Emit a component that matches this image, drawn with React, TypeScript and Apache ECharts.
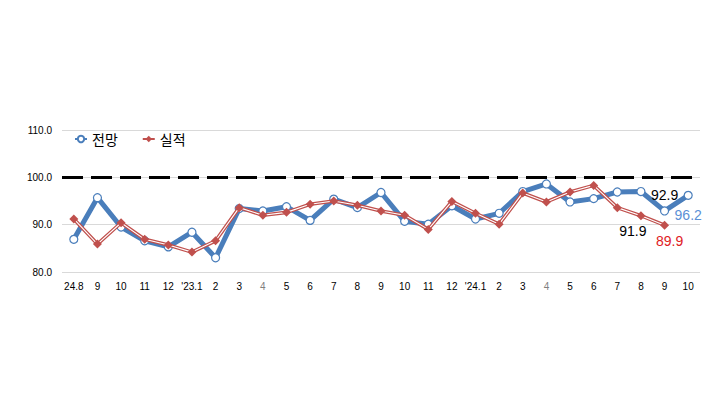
import React, { useEffect, useRef } from "react";
import * as echarts from "echarts";

const categories = ["24.8", "9", "10", "11", "12", "'23.1", "2", "3", "4", "5", "6", "7", "8", "9", "10", "11", "12", "'24.1", "2", "3", "4", "5", "6", "7", "8", "9", "10"];
const outlook = [86.9, 95.7, 89.5, 86.6, 85.3, 88.4, 83.0, 93.4, 92.9, 93.8, 90.9, 95.4, 93.6, 96.8, 90.7, 90.1, 94.0, 91.2, 92.4, 97.0, 98.6, 94.8, 95.5, 96.9, 97.0, 92.9, 96.2];
const actual = [91.2, 85.9, 90.4, 86.9, 85.7, 84.2, 86.6, 93.6, 92.0, 92.6, 94.3, 95.0, 94.1, 92.9, 92.0, 89.0, 94.9, 92.4, 90.1, 96.7, 94.8, 96.9, 98.3, 93.6, 91.9, 89.9];
const yTicks = [80, 90, 100, 110];
const baseline = 100;

const BLUE = "#4a7ebb";
const RED = "#c0504d";
const FONT = "'Liberation Sans', Arial, sans-serif";
const KFONT = "'Noto Sans CJK KR', 'Noto Sans', sans-serif";

export default function App() {
  const ref = useRef<HTMLDivElement>(null);
  useEffect(() => {
    if (!ref.current) return;
    const chart = echarts.init(ref.current, null, { renderer: "svg" });
    const n = outlook.length;
    const outlookData = outlook.map((v, i) => {
      if (i === n - 2)
        return { value: v, label: { show: true, position: "top", distance: 4, color: "#000", fontSize: 14, fontFamily: FONT, formatter: v.toFixed(1) } };
      if (i === n - 1)
        return { value: v, label: { show: true, position: "bottom", distance: 8, color: "#5b8fd6", fontSize: 14, fontFamily: FONT, formatter: v.toFixed(1) } };
      return v;
    });
    const m = actual.length;
    const actualLabelData = actual.map((v, i) => {
      if (i === m - 2)
        return { value: v, label: { show: true, position: "bottom", distance: 4, offset: [-8, 0], color: "#000", fontSize: 14, fontFamily: FONT, formatter: v.toFixed(1) } };
      if (i === m - 1)
        return { value: v, label: { show: true, position: "bottom", distance: 4, offset: [5, 0], color: "#e0201e", fontSize: 14, fontFamily: FONT, formatter: v.toFixed(1) } };
      return v;
    });
    chart.setOption({
      animation: false,
      grid: { left: 62, right: 27, top: 130, bottom: 137 },
      legend: {
        left: 69,
        top: 127,
        itemWidth: 12,
        itemHeight: 8,
        itemGap: 24,
        textStyle: { fontFamily: KFONT, fontSize: 14, color: "#000" },
        data: ["전망", "실적"],
      },
      xAxis: {
        type: "category",
        data: categories.map((c) => (c === "4" ? { value: c, textStyle: { color: "#7f7f7f" } } : c)),
        boundaryGap: true,
        axisLine: { show: false },
        axisTick: { show: false },
        axisLabel: { interval: 0, fontSize: 10, fontFamily: FONT, color: "#000", margin: 9 },
      },
      yAxis: {
        type: "value",
        min: yTicks[0],
        max: yTicks[yTicks.length - 1],
        interval: 10,
        axisLine: { show: false },
        axisTick: { show: false },
        axisLabel: { fontSize: 10, fontFamily: FONT, color: "#000", margin: 10, formatter: (v: number) => v.toFixed(1) },
        splitLine: { lineStyle: { color: "#d9d9d9", width: 1 } },
      },
      series: [
        {
          name: "전망",
          type: "line",
          data: outlookData,
          z: 2,
          lineStyle: { color: BLUE, width: 5 },
          itemStyle: { color: "#fff", borderColor: BLUE, borderWidth: 1.2 },
          symbol: "circle",
          symbolSize: 8,
          markLine: {
            silent: true,
            symbol: "none",
            label: { show: false },
            lineStyle: { color: "#000", width: 3, type: [21, 8] },
            data: [{ yAxis: baseline }],
          },
        },
        {
          name: "실적",
          type: "line",
          data: actual,
          z: 3,
          lineStyle: { color: RED, width: 3.6 },
          itemStyle: { color: RED },
          symbol: "diamond",
          symbolSize: 9,
          showSymbol: false,
        },
        {
          name: "실적-inner",
          type: "line",
          data: actual,
          z: 4,
          silent: true,
          symbol: "none",
          lineStyle: { color: "#fff", width: 1.1 },
        },
        {
          name: "실적-markers",
          type: "line",
          data: actualLabelData,
          z: 5,
          lineStyle: { width: 0, opacity: 0 },
          itemStyle: { color: RED },
          symbol: "diamond",
          symbolSize: 9,
        },
      ],
    });
    return () => chart.dispose();
  }, []);
  return <div ref={ref} style={{ width: 727, height: 409, margin: -8 }} />;
}
